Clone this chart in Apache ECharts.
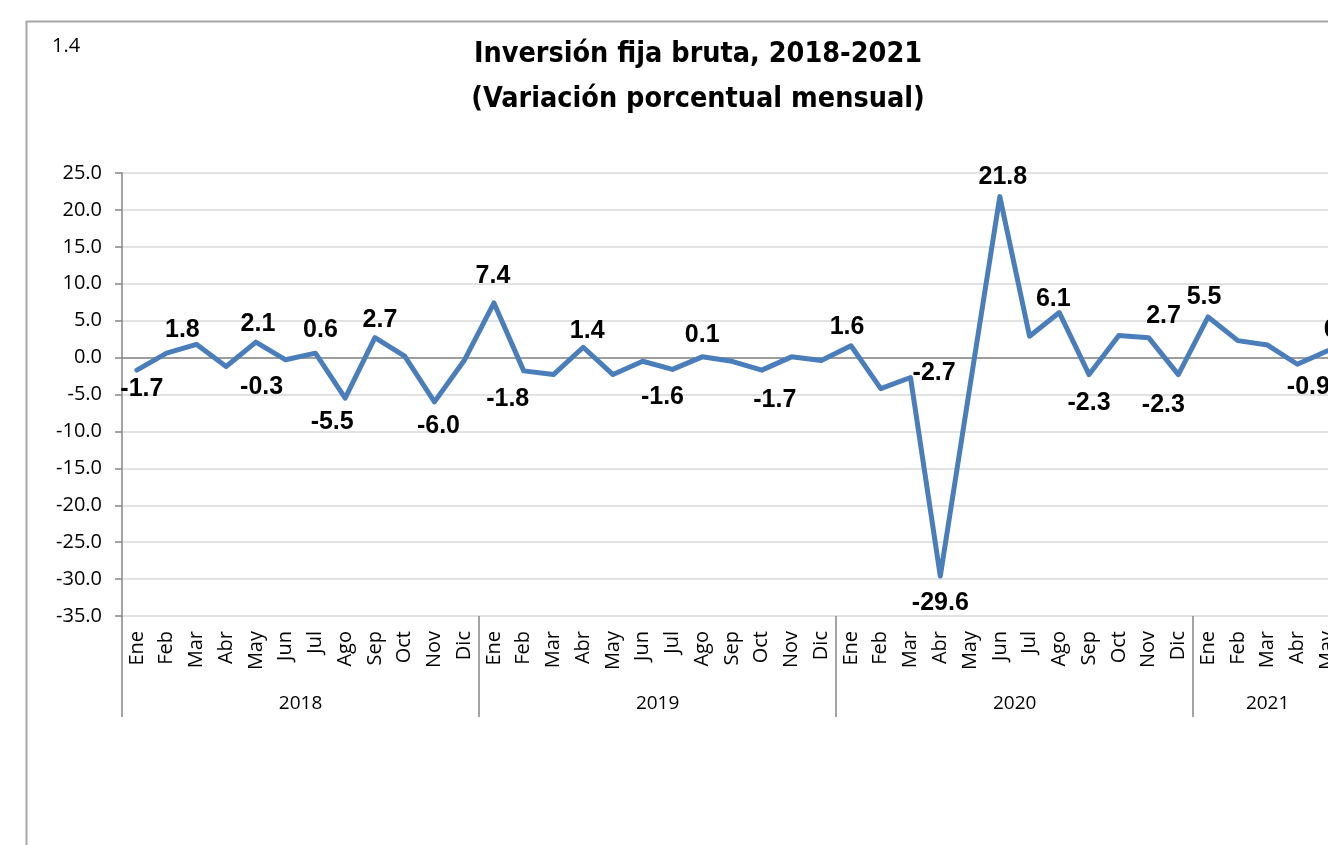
<!DOCTYPE html>
<html>
<head>
<meta charset="utf-8">
<title>Inversión fija bruta</title>
<script src="https://cdn.jsdelivr.net/npm/echarts@6/dist/echarts.min.js"></script>
<style>
    html, body { margin: 0; padding: 0; background: #fff; overflow: hidden; }
    #chart { width: 1400px; height: 900px; }
</style>
</head>
<body>
<div id="chart"></div>
<script>
// data
const years = ['2018', '2019', '2020', '2021'];
const monthNames = ['Ene', 'Feb', 'Mar', 'Abr', 'May', 'Jun', 'Jul', 'Ago', 'Sep', 'Oct', 'Nov', 'Dic'];
const monthsPerYear = [12, 12, 12, 5];

const values2018 = [-1.7, 0.6, 1.8, -1.2, 2.1, -0.3, 0.6, -5.5, 2.7, 0.2, -6.0, -0.4];
const values2019 = [7.4, -1.8, -2.3, 1.4, -2.3, -0.5, -1.6, 0.1, -0.5, -1.7, 0.1, -0.4];
const values2020 = [1.6, -4.2, -2.7, -29.6, -3.8, 21.8, 2.9, 6.1, -2.3, 3.0, 2.7, -2.3];
const values2021 = [5.5, 2.3, 1.7, -0.9, 0.9];

const yTicks = [-35, -30, -25, -20, -15, -10, -5, 0, 5, 10, 15, 20, 25];

// which points carry a value label: [side, nudge x, nudge y]
const labelPlaces = {
    0: ['bottom', 5, 2], 2: ['top', -14, 2], 4: ['top', 2, -1], 5: ['bottom', -24, 11],
    6: ['top', 5, -6], 7: ['bottom', -13, 7], 8: ['top', 5, -1], 10: ['bottom', 4, 8],
    12: ['top', -1, -10], 13: ['bottom', -16, 12], 15: ['top', 4, 0], 18: ['bottom', -10, 11],
    19: ['top', 0, -5], 21: ['bottom', 13, 13],
    24: ['top', -4, -2], 26: ['right', 1, -4], 27: ['bottom', 0, 10], 29: ['top', 3, -3],
    31: ['top', -6, 3], 32: ['bottom', 0, 12], 34: ['top', 15, -5], 35: ['bottom', -15, 14],
    36: ['top', -4, -3], 39: ['bottom', 11, 6], 40: ['top', 14, -4]
};

const allValues = [].concat(values2018, values2019, values2020, values2021);
const monthCats = [];
const yearCats = [];
years.forEach((y, i) => {
    for (let m = 0; m < monthsPerYear[i]; m++) {
        monthCats.push(monthNames[m]);
        yearCats.push(y);
    }
});

// index where each year's label goes (middle of its block)
const yearLabelIdx = {};
let start = 0;
monthsPerYear.forEach(n => {
    yearLabelIdx[start + Math.floor(n / 2)] = n % 2 === 0 ? 'even' : 'odd';
    start += n;
});

const gridLeft = 122;
const gridRight = 58;
const chartWidth = 1400;
const catW = (chartWidth - gridLeft - gridRight) / allValues.length;

const labelFont = 'Liberation Sans, Arial, sans-serif';
const axisFont = 'Open Sans, Noto Sans, sans-serif';

const seriesData = allValues.map((v, i) => {
    const p = labelPlaces[i];
    if (!p) return v;
    return {
        value: v,
        label: {
            show: true,
            position: p[0],
            distance: p[0] === 'right' ? 1 : 4,
            offset: [p[1], p[2]]
        }
    };
});

const chart = echarts.init(document.getElementById('chart'));

const option = {
    animation: false,
    title: [
        {
            text: 'Inversión fija bruta, 2018-2021\n(Variación porcentual mensual)',
            left: 693,
            top: 27,
            textAlign: 'center',
            textStyle: {
                fontFamily: 'Liberation Sans Narrow, DejaVu Sans Condensed, Arial Narrow, sans-serif',
                fontWeight: 'bold',
                fontSize: 28.5,
                lineHeight: 45,
                color: '#000'
            }
        },
        {
            text: '1.4',
            left: 47,
            top: 31,
            textStyle: { fontFamily: axisFont, fontWeight: 'normal', fontSize: 20, color: '#000' }
        }
    ],
    graphic: [
        {
            type: 'rect',
            left: 24,
            top: 19,
            z: -10,
            shape: { width: 1400, height: 900 },
            style: { fill: 'none', stroke: '#a6a6a6', lineWidth: 2 }
        }
    ],
    grid: {
        left: gridLeft,
        right: gridRight,
        top: 173,
        height: 443,
        containLabel: false
    },
    xAxis: [
        {
            type: 'category',
            data: monthCats,
            boundaryGap: true,
            axisLine: { show: false },
            axisTick: { show: false },
            splitLine: { show: false },
            axisLabel: {
                rotate: 90,
                margin: 15,
                interval: 0,
                fontFamily: axisFont,
                fontSize: 20,
                color: '#000'
            }
        },
        {
            type: 'category',
            data: yearCats,
            position: 'bottom',
            boundaryGap: true,
            axisLine: { show: false },
            axisTick: {
                show: true,
                interval: function (index) { return index % 12 === 0; },
                length: 101,
                lineStyle: { color: '#868686', width: 1.5 }
            },
            axisLabel: {
                margin: 78,
                interval: function (index) { return yearLabelIdx[index] !== undefined; },
                formatter: function (value, index) {
                    return yearLabelIdx[index] === 'even' ? '{ev|' + value + '}' : '{od|' + value + '}';
                },
                rich: {
                    ev: { fontFamily: axisFont, fontSize: 19, color: '#000', padding: [0, catW, 0, 0] },
                    od: { fontFamily: axisFont, fontSize: 19, color: '#000' }
                }
            }
        }
    ],
    yAxis: {
        type: 'value',
        min: yTicks[0],
        max: yTicks[yTicks.length - 1],
        interval: 5,
        axisLine: { show: true, lineStyle: { color: '#868686', width: 1.5 } },
        axisTick: { show: true, length: 7, lineStyle: { color: '#868686', width: 1.5 } },
        splitLine: { show: true, lineStyle: { color: '#d9d9d9', width: 1.5 } },
        axisLabel: {
            margin: 20,
            fontFamily: axisFont,
            fontSize: 20,
            color: '#000',
            formatter: function (v) { return v.toFixed(1); }
        }
    },
    series: [
        {
            type: 'line',
            data: seriesData,
            symbol: 'circle',
            symbolSize: 0.1,
            itemStyle: { color: '#4a7ebb' },
            lineStyle: { color: '#4a7ebb', width: 5, cap: 'round', join: 'round' },
            label: {
                show: false,
                fontFamily: labelFont,
                fontWeight: 'bold',
                fontSize: 25,
                color: '#000',
                formatter: function (p) { return p.value.toFixed(1); }
            },
            markLine: {
                silent: true,
                symbol: 'none',
                label: { show: false },
                lineStyle: { color: '#868686', width: 1.5, type: 'solid' },
                data: [{ yAxis: 0 }]
            },
            z: 5
        }
    ]
};

chart.setOption(option);
</script>
</body>
</html>
